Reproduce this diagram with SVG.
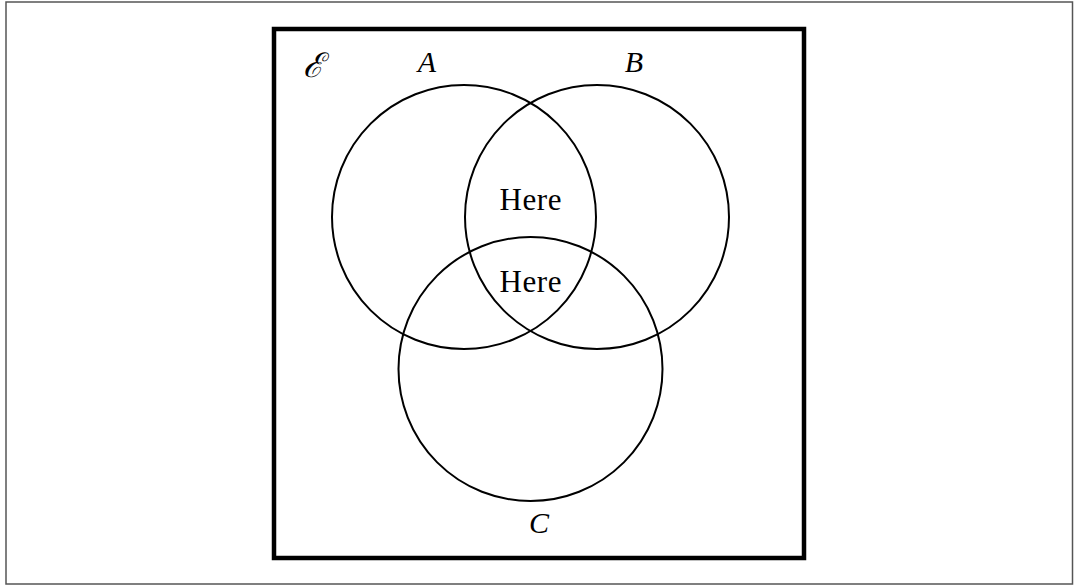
<svg xmlns="http://www.w3.org/2000/svg" width="1074" height="586" viewBox="0 0 1074 586">
  <style>
    .set { fill: none; stroke: #000; stroke-width: 2; }
    .lbl { font-family: "Liberation Serif", "DejaVu Serif", serif; font-style: italic; font-size: 30px; fill: #000; text-anchor: middle; }
    .here { font-family: "Liberation Serif", "DejaVu Serif", serif; font-size: 31px; fill: #000; text-anchor: middle; }
  </style>
  <rect x="0" y="0" width="1074" height="586" fill="#fff"/>
  <rect x="6" y="2" width="1066.5" height="582" fill="none" stroke="#555" stroke-width="1.5"/>
  <g id="universe">
    <rect x="274" y="29" width="530" height="529" fill="none" stroke="#000" stroke-width="4.5"/>
    <text x="313" y="77" font-family="'DejaVu Serif', 'Liberation Serif', serif" font-style="italic" font-size="34" text-anchor="middle">ℰ</text>
  </g>
  <g id="setA">
    <circle class="set" cx="464" cy="217" r="132"/>
    <text class="lbl" x="427" y="72">A</text>
  </g>
  <g id="setB">
    <circle class="set" cx="597" cy="217" r="132"/>
    <text class="lbl" x="634" y="72">B</text>
  </g>
  <g id="setC">
    <circle class="set" cx="530.5" cy="369" r="132"/>
    <text class="lbl" x="539" y="533">C</text>
  </g>
  <g id="labels">
    <text class="here" x="530.5" y="210" textLength="62">Here</text>
    <text class="here" x="530.5" y="292" textLength="62">Here</text>
  </g>
  <g id="connectors"/>
</svg>
